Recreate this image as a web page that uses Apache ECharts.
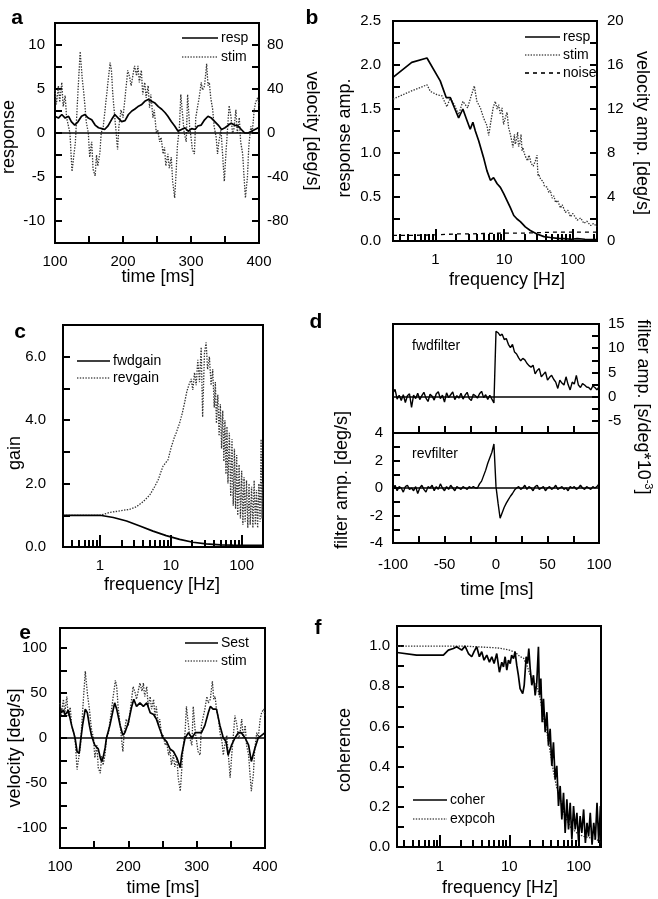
<!DOCTYPE html>
<html><head><meta charset="utf-8">
<script src="https://cdn.jsdelivr.net/npm/echarts@6/dist/echarts.min.js"></script>
<style>html,body{margin:0;padding:0;background:#fff}#c{width:658px;height:899px}</style>
</head><body><div id="c"></div>
<script>
// ---------- panel a / e : time series (ms) ----------
const stimT = [100,102,105,107,110,112,115,117,122,125,128,130,134,137,140,143,146,149,151,154,156,159,161,163,166,168,171,176,181,183,185,188,192,194,197,200,203,207,210,212,215,217,220,222,224,227,229,232,234,237,239,241,244,246,249,251,254,256,259,261,263,266,268,271,273,276,278,280,283,285,288,290,293,295,298,300,302,305,307,310,312,315,317,320,323,325,327,329,332,334,337,339,341,344,346,349,351,354,356,359,361,363,366,368,371,373,376,378,380,383,385,388,390,393,395,398,400];
const stimV = [39,26,43,28,46,24,34,14,0,-35,-19,-8,40,74,50,32,10,0,-22,-8,-33,-39,-20,-30,-18,0,6,35,64,57,35,14,-15,6,21,14,32,57,50,43,54,61,52,61,46,57,35,46,32,43,23,35,14,21,0,3,-8,-4,-19,-13,-30,-19,-32,-22,-44,-59,-37,-12,6,35,14,0,-8,35,6,-4,-15,-19,14,25,32,46,39,43,63,43,46,32,21,6,-4,-19,-8,3,-15,-44,-22,6,25,14,0,3,21,0,14,-8,-19,-40,-59,-40,-12,6,0,21,28,32,25];
const respT = [100,105,110,115,120,124,129,134,139,144,149,154,159,164,169,173,178,183,188,193,198,203,208,213,217,222,227,232,237,242,247,252,257,262,266,271,276,281,286,291,296,301,306,310,315,320,325,330,335,340,345,350,355,359,364,369,374,379,384,389,394,399];
const respV = [1.9,1.7,2.1,1.7,1.9,1.3,0.9,1.3,1.9,2.1,1.7,1.5,0.9,0.6,0.5,0.4,0.8,1.5,2.1,1.7,1.3,1.4,2.1,2.5,2.7,3.0,3.2,3.6,3.8,3.6,3.4,3.0,2.7,2.3,1.9,1.3,0.8,0.2,0.4,0.6,0.2,0.5,0.4,0.8,0.9,1.5,1.9,1.7,1.3,0.9,0.4,0.6,0.9,1.1,0.9,0.8,0.4,0.0,0.0,0.2,0.4,0.6];
const sestT = [100,102,105,107,110,112,115,117,120,122,125,128,130,133,137,140,143,146,149,151,156,159,161,163,166,168,173,178,180,183,188,192,195,200,205,208,212,217,222,227,232,237,241,246,251,256,261,266,271,276,278,283,288,293,298,302,307,312,317,320,324,329,334,339,343,346,351,356,361,365,371,376,380,385,390,395,400];
const sestV = [35,28,31,26,28,31,21,14,6,0,-15,-17,-4,14,32,28,14,3,-4,-8,-12,-22,-26,-22,-11,0,14,32,39,32,14,3,6,17,35,43,35,39,35,39,28,26,21,10,0,-4,-12,-15,-22,-33,-19,0,6,0,6,6,6,14,28,35,32,32,14,0,-4,-19,-8,0,6,6,0,-8,-26,-12,0,3,6];

// ---------- panel b : amplitude spectra ----------
const bRespF = [0.24,0.45,0.75,1.17,1.43,1.64,1.87,2.17,2.5,2.87,3.2,3.5,3.8,4.25,5.0,5.6,6.3,7.0,7.9,8.8,9.8,11.0,12.3,13.8,15.4,17.2,20.3,24,30,38,47,60,74,95,116,150,190,225];
const bRespV = [1.86,2.03,2.08,1.82,1.63,1.63,1.52,1.40,1.50,1.37,1.27,1.35,1.25,1.14,0.95,0.80,0.69,0.72,0.65,0.61,0.54,0.46,0.38,0.29,0.25,0.22,0.16,0.12,0.08,0.05,0.04,0.03,0.026,0.02,0.026,0.02,0.015,0.015];
const bStimF = [0.24,0.43,0.75,0.84,1.05,1.24,1.46,1.64,1.87,2.17,2.5,2.93,3.2,3.67,4.0,4.5,5.0,5.6,5.95,6.3,6.9,7.4,7.9,8.3,8.8,9.3,9.8,10.4,11.0,11.6,12.3,13.0,13.4,14.1,14.5,15.0,15.7,16.2,16.8,17.6,18.2,18.8,19.5,20.3,21,22,22.8,23.6,24.5,25.5,26.5,27.5,28.5,30.1,31.0,31.8,33,34,35.6,37,38.5,39.9,42,44.7,47,50,53,56,60,66,70,78,85,92,100,116,130,145,160,182,200,225];
const bStimV = [12.9,13.6,14.2,13.6,13.3,13.2,12.2,13.0,12.4,11.5,12.7,12.1,12.9,14.1,12.7,12.1,11.2,10.5,9.6,10.6,12.1,12.7,12.0,12.4,11.5,12.1,10.6,11.2,11.7,10.3,9.7,9.0,8.5,9.7,8.8,9.1,9.9,8.6,8.8,9.7,8.2,8.5,8.0,7.9,7.5,7.3,7.8,7.6,7.1,7.0,6.8,6.7,7.3,7.8,5.9,6.1,6.0,5.6,5.5,5.4,5.0,5.0,4.9,4.4,4.6,3.9,4.1,3.5,3.7,3.0,3.3,2.6,2.8,2.2,2.5,1.9,2.1,1.6,1.8,1.4,1.6,1.3];
const bNoiseF = [0.24,0.5,1,2,3,5,10,20,50,100,225];
const bNoiseV = [0.065,0.065,0.07,0.08,0.08,0.085,0.09,0.09,0.1,0.1,0.1];

// ---------- panel c : gains ----------
const cFwdF = [0.3,0.5,1.0,1.54,2.37,3.65,5.6,8.6,13.3,20.5,31.5,50,75,120,197];
const cFwdV = [1.0,1.0,1.0,0.93,0.82,0.66,0.50,0.36,0.24,0.15,0.10,0.07,0.06,0.05,0.05];
const cRevF = [0.3,0.5,1.0,1.38,1.91,2.64,3.27,4.06,5.04,5.9,6.6,7.2,7.76,8.2,9.1,10.2,11.3,11.9,13.3,14.5,15.6,16.8,17.9,19.4,20.4,21.6,22.8,24.0,25.4,26.8,28.1,29.8,31.5,33.0,35.0,37.0,39.0,41.0,42.5,44.0,46,48,50,52,54,56,58,60,62,64,67,70,73,76,79,82,85,88,92,96,100,104,108,112,117,122,127,132,138,144,150,156,162,168,175,182,188,194,197];
const cRevV = [1.0,1.0,1.0,1.09,1.14,1.19,1.27,1.43,1.64,1.90,2.11,2.35,2.55,2.5,2.75,3.17,3.48,3.6,3.91,4.22,4.54,4.9,5.1,5.3,4.95,5.5,5.1,5.9,5.2,6.3,4.1,6.1,6.45,5.6,6.0,5.1,5.6,4.4,5.2,3.9,4.8,3.5,4.5,3.1,4.3,2.7,4.0,2.3,3.8,2.0,3.6,1.6,3.4,1.3,3.1,1.2,2.9,1.0,2.6,0.9,2.4,0.7,2.2,0.8,2.1,0.6,2.0,0.7,1.9,0.6,2.1,0.7,1.8,0.6,2.0,0.8,3.4,0.9,2.0];

// ---------- panel d : filters (ms) ----------
const dTime = [-100,-98,-96,-94,-92,-90,-88,-86,-84,-82,-80,-78,-76,-74,-72,-70,-68,-66,-64,-62,-60,-58,-56,-54,-52,-50,-48,-46,-44,-42,-40,-38,-36,-34,-32,-30,-28,-26,-24,-22,-20,-18,-16,-14,-12,-10,-8,-6,-4,-2,0,2,4,6,8,10,12,14,16,18,20,22,24,26,28,30,32,34,36,38,40,42,44,46,48,50,52,54,56,58,60,62,64,66,68,70,72,74,76,78,80,82,84,86,88,90,92,94,96,98,100];
const dFwd = [0.8,1.5,-0.5,0.3,-0.8,0.4,-1.2,0.2,0.6,-2.2,0.3,-0.4,0.7,-0.6,0.2,0.9,-0.3,-1.0,0.5,0.1,-0.7,0.6,1.0,-0.4,0.3,-1.1,0.8,-0.2,0.4,1.0,-0.6,0.2,-0.3,0.7,-0.5,0.3,0.9,-0.4,-0.8,0.5,0.2,-0.3,0.6,1.1,-0.2,0.4,-0.6,0.3,-0.5,-1.3,
  13.5,13.2,12.6,12.9,11.8,12.0,10.8,10.1,10.8,9.2,8.8,8.0,7.4,7.9,7.6,6.9,6.4,6.1,6.5,4.7,5.4,5.8,4.1,4.6,5.1,3.4,4.0,4.4,3.6,3.0,1.7,3.4,2.8,2.4,4.1,2.5,1.4,3.0,2.6,4.4,2.4,1.9,2.7,2.4,2.0,1.9,1.4,2.2,1.9,1.4,2.0];
const dRev = [-0.1,0.2,-0.2,0.1,0.0,-0.3,0.1,0.2,-0.1,0.0,-0.2,0.1,-0.4,0.0,0.2,-0.1,-0.3,0.1,0.0,0.2,-0.2,0.1,-0.1,0.3,0.0,-0.2,0.1,-0.1,0.2,0.0,-0.2,0.1,0.0,-0.1,0.1,0.0,-0.1,0.1,0.0,0.1,0.0,
  0.0,0.3,0.5,0.9,1.3,1.8,2.2,2.6,3.2,0.1,-1.1,-2.2,-1.8,-1.4,-1.1,-0.84,-0.6,-0.4,-0.15,0.0,
  0.1,-0.1,0.0,0.2,-0.1,0.1,0.0,-0.2,0.1,0.2,-0.1,0.0,0.1,-0.2,0.0,0.1,-0.1,0.0,0.2,-0.1,0.0,0.1,-0.1,0.0,-0.2,0.1,0.0,0.1,-0.1,0.0,0.2,0.0,-0.1,0.1,0.0,-0.1,0.1,0.0,0.1,0.3];

// ---------- panel f : coherence ----------
const fCohF = [0.24,0.46,1.0,1.12,1.32,1.56,1.74,1.84,2.06,2.3,2.57,2.87,3.1,3.39,3.7,4.0,4.32,4.73,5.17,5.59,6.03,6.59,7.2,7.79,8.23,8.7,9.2,9.72,10.3,10.8,11.5,12.1,12.8,13.5,14.3,15.6,16.4,17.5,18.3,19.1,20.0,21.1,22.3,23.6,24.9,26.3,27.2,28.5,29.8,31.1,32.9,34.8,36.7,38.8,41.0,43.3,45.8,48.4,51.2,54.1,57.2,60.5,63.9,67.6,71.4,75.5,79.8,84.4,89.2,94.3,99.7,105,111,118,125,132,139,147,156,165,174,184,195,206,210];
const fCohV = [0.968,0.955,0.955,0.955,0.98,0.988,0.997,0.988,0.98,1.0,0.963,0.947,0.972,0.997,0.947,0.972,0.93,0.955,0.92,0.947,0.913,0.963,0.87,0.92,0.896,0.947,0.88,0.93,0.913,0.955,0.938,0.972,0.905,0.855,0.788,0.763,0.805,0.947,0.913,0.988,0.888,0.805,0.855,0.755,0.821,0.997,0.755,0.838,0.621,0.738,0.571,0.671,0.504,0.588,0.404,0.521,0.337,0.404,0.204,0.304,0.137,0.27,0.07,0.237,0.087,0.22,0.037,0.204,0.087,0.17,0.028,0.154,0.07,0.187,0.02,0.12,0.053,0.17,0.012,0.12,0.037,0.22,0.02,0.204,0.07];
const fExpF = [0.24,0.5,1,2.2,5.3,7.2,10,12.1,14.3,16,17.9,20,22.5,25,27.9,31,34.8,39,43.5,48.7,54.4,60.8,75.8,94.5,105,118,147,184,210];
const fExpV = [1.0,1.0,1.0,1.0,0.993,0.99,0.98,0.97,0.947,0.94,0.905,0.855,0.82,0.80,0.74,0.64,0.57,0.47,0.37,0.29,0.24,0.17,0.10,0.07,0.06,0.053,0.045,0.037,0.02];

// ---------- tick values ----------
const logMinorTicks = [0.3,0.4,0.5,0.6,0.7,0.8,0.9,2,3,4,5,6,7,8,9,20,30,40,50,60,70,80,90,200];
const logDecades = [1,10,100];

// ================= chart =================
const FONT = '"Liberation Sans", Arial, Helvetica, sans-serif';
const zip = (xs, ys) => xs.map((x, i) => [x, ys[i]]);
const tick = (vals, len) => ({show: true, inside: true, length: len || 7, lineStyle: {color: '#000', width: 2}, customValues: vals});
const lab = (vals, margin, fmt) => ({show: true, color: '#000', fontSize: 15, fontFamily: FONT, margin: margin, customValues: vals, showMinLabel: true, showMaxLabel: true, formatter: fmt || (v => String(v))});
const noLab = {show: false};
function ax(o) {
  return Object.assign({axisLine: {show: false, onZero: false}, splitLine: {show: false}, minorTick: {show: false}, axisLabel: noLab, axisTick: {show: false}}, o);
}
const f1 = v => Number(v).toFixed(1);
const fInt = v => String(Math.round(v));

const solid = {color: '#000', width: 1.7};
const dotted = {color: '#333', width: 1.3, type: [1.4, 1.4]};
const dashed = {color: '#000', width: 1.3, type: [4, 4]};
const zeroLine = {silent: true, symbol: 'none', label: {show: false}, lineStyle: {color: '#000', width: 1.6, type: 'solid'}, data: [{yAxis: 0}]};
function line(name, xi, yi, data, style, extra) {
  return Object.assign({type: 'line', name: name, xAxisIndex: xi, yAxisIndex: yi, data: data, showSymbol: false, symbol: 'none', lineStyle: style, animation: false, silent: true}, extra || {});
}

const gridBase = {show: true, borderColor: '#000', borderWidth: 2, backgroundColor: 'transparent'};
const grids = [
  {left: 55, top: 23, width: 204, height: 220},   // a
  {left: 393, top: 21, width: 204, height: 220},  // b
  {left: 63, top: 325, width: 200, height: 222},  // c
  {left: 393, top: 324, width: 206, height: 109}, // d upper
  {left: 393, top: 433, width: 206, height: 110}, // d lower
  {left: 60, top: 628, width: 205, height: 220},  // e
  {left: 397, top: 626, width: 204, height: 221}  // f
].map(g => Object.assign({}, gridBase, g));

const xAxes = [
  ax({type: 'value', gridIndex: 0, position: 'bottom', min: 100, max: 400, axisTick: tick([150,200,250,300,350]), axisLabel: lab([100,200,300,400], 11)}),
  ax({type: 'log', logBase: 10, gridIndex: 1, position: 'bottom', min: 0.24, max: 225, axisTick: tick(logMinorTicks), axisLabel: lab(logDecades, 11, fInt)}),
  ax({type: 'log', logBase: 10, gridIndex: 1, position: 'bottom', min: 0.24, max: 225, axisTick: tick(logDecades, 12)}),
  ax({type: 'log', logBase: 10, gridIndex: 2, position: 'bottom', min: 0.3, max: 200, axisTick: tick(logMinorTicks), axisLabel: lab(logDecades, 11, fInt)}),
  ax({type: 'log', logBase: 10, gridIndex: 2, position: 'bottom', min: 0.3, max: 200, axisTick: tick(logDecades, 12)}),
  ax({type: 'value', gridIndex: 3, position: 'bottom', min: -100, max: 100, axisTick: tick([-75,-50,-25,0,25,50,75])}),
  ax({type: 'value', gridIndex: 4, position: 'bottom', min: -100, max: 100, axisTick: tick([-75,-50,-25,0,25,50,75]), axisLabel: lab([-100,-50,0,50,100], 14)}),
  ax({type: 'value', gridIndex: 5, position: 'bottom', min: 100, max: 400, axisTick: tick([150,200,250,300,350]), axisLabel: lab([100,200,300,400], 11)}),
  ax({type: 'log', logBase: 10, gridIndex: 6, position: 'bottom', min: 0.24, max: 210, axisTick: tick(logMinorTicks), axisLabel: lab(logDecades, 12, fInt)}),
  ax({type: 'log', logBase: 10, gridIndex: 6, position: 'bottom', min: 0.24, max: 210, axisTick: tick(logDecades, 12)})
];
const yAxes = [
  ax({type: 'value', gridIndex: 0, position: 'left', min: -12.5, max: 12.5, axisTick: tick([-10,-7.5,-5,-2.5,0,2.5,5,7.5,10]), axisLabel: lab([-10,-5,0,5,10], 10)}),
  ax({type: 'value', gridIndex: 0, position: 'right', min: -100, max: 100, axisTick: tick([-80,-60,-40,-20,0,20,40,60,80]), axisLabel: lab([-80,-40,0,40,80], 8)}),
  ax({type: 'value', gridIndex: 1, position: 'left', min: 0, max: 2.5, axisTick: tick([0.25,0.5,0.75,1,1.25,1.5,1.75,2,2.25]), axisLabel: lab([0,0.5,1,1.5,2,2.5], 12, f1)}),
  ax({type: 'value', gridIndex: 1, position: 'right', min: 0, max: 20, axisTick: tick([2,4,6,8,10,12,14,16,18]), axisLabel: lab([0,4,8,12,16,20], 10)}),
  ax({type: 'value', gridIndex: 2, position: 'left', min: 0, max: 7, axisTick: tick([1,2,3,4,5,6]), axisLabel: lab([0,2,4,6], 17, f1)}),
  ax({type: 'value', gridIndex: 3, position: 'right', min: -7.5, max: 15, axisTick: tick([-5,-2.5,0,2.5,5,7.5,10,12.5]), axisLabel: lab([-5,0,5,10,15], 9)}),
  ax({type: 'value', gridIndex: 4, position: 'left', min: -4, max: 4, axisTick: tick([-3,-2,-1,0,1,2,3]), axisLabel: lab([-4,-2,0,2,4], 10)}),
  ax({type: 'value', gridIndex: 5, position: 'left', min: -122, max: 122, axisTick: tick([-100,-75,-50,-25,0,25,50,75,100]), axisLabel: lab([-100,-50,0,50,100], 13)}),
  ax({type: 'value', gridIndex: 6, position: 'left', min: 0, max: 1.1, axisTick: tick([0.1,0.2,0.3,0.4,0.5,0.6,0.7,0.8,0.9,1.0]), axisLabel: lab([0,0.2,0.4,0.6,0.8,1.0], 7, f1)})
];

const series = [
  line('stim', 0, 1, zip(stimT, stimV), dotted),
  line('resp', 0, 0, zip(respT, respV), solid, {markLine: zeroLine}),
  line('stim', 1, 3, zip(bStimF, bStimV), dotted),
  line('noise', 1, 2, zip(bNoiseF, bNoiseV), dashed),
  line('resp', 1, 2, zip(bRespF, bRespV), solid),
  line('revgain', 3, 4, zip(cRevF, cRevV), dotted),
  line('fwdgain', 3, 4, zip(cFwdF, cFwdV), solid),
  line('fwdfilter', 5, 5, zip(dTime, dFwd), {color: '#000', width: 1.4}, {markLine: zeroLine}),
  line('revfilter', 6, 6, zip(dTime, dRev), {color: '#000', width: 1.4}, {markLine: zeroLine}),
  line('stim', 7, 7, zip(stimT, stimV), dotted),
  line('Sest', 7, 7, zip(sestT, sestV), solid, {markLine: zeroLine}),
  line('expcoh', 8, 8, zip(fExpF, fExpV), dotted),
  line('coher', 8, 8, zip(fCohF, fCohV), solid)
];

// ---------- text / legend decorations ----------
const G = [];
function txt(x, y, s, size, rot, extra) {
  G.push({type: 'text', x: x, y: y, rotation: rot || 0, silent: true,
    style: Object.assign({text: s, fontSize: size, fontFamily: FONT, fill: '#000', textAlign: 'center', textVerticalAlign: 'middle', verticalAlign: 'middle'}, extra || {})});
}
function leg(x1, x2, y, label, style) {
  G.push({type: 'line', silent: true, shape: {x1: x1, y1: y, x2: x2, y2: y},
    style: {stroke: '#000', lineWidth: style === dotted ? 1.2 : 1.6, lineDash: style === dotted ? [1.4, 1.4] : (style === dashed ? [4, 4] : null)}});
  txt(x2 + 3, y, label, 14, 0, {textAlign: 'left'});
}
const R = Math.PI / 2;
// panel letters
[['a', 17, 18], ['b', 312, 18], ['c', 20, 332], ['d', 316, 322], ['e', 25, 633], ['f', 318, 628]].forEach(p =>
  txt(p[1], p[2], p[0], 21, 0, {fontWeight: 'bold'}));
// axis titles
txt(9, 137, 'response', 18, R);
txt(312, 131, 'velocity [deg/s]', 18, -R);
txt(158, 277, 'time [ms]', 18);
txt(345, 138, 'response amp.', 18, R);
txt(642, 133, 'velocity amp. [deg/s]', 18, -R);
txt(507, 280, 'frequency [Hz]', 18);
txt(15, 453, 'gain', 18, R);
txt(162, 585, 'frequency [Hz]', 18);
txt(497, 590, 'time [ms]', 18);
txt(342, 480, 'filter amp. [deg/s]', 18, R);
G.push({type: 'text', x: 643, y: 407, rotation: -R, silent: true,
  style: {text: '{m|filter amp. [s/deg*10}{s|-3}{m|]}', fill: '#000', textAlign: 'center', textVerticalAlign: 'middle', verticalAlign: 'middle',
    rich: {m: {fontSize: 18, fontFamily: FONT, fill: '#000', lineHeight: 22}, s: {fontSize: 11, fontFamily: FONT, fill: '#000', verticalAlign: 'top', lineHeight: 22, padding: [0, 0, 10, 0]}}}});
txt(15, 748, 'velocity [deg/s]', 18, R);
txt(163, 888, 'time [ms]', 18);
txt(345, 750, 'coherence', 18, R);
txt(500, 888, 'frequency [Hz]', 18);
// in-plot labels
txt(412, 346, 'fwdfilter', 14, 0, {textAlign: 'left'});
txt(412, 454, 'revfilter', 14, 0, {textAlign: 'left'});
// legends
leg(182, 218, 38, 'resp', solid);
leg(182, 218, 57, 'stim', dotted);
leg(525, 560, 37, 'resp', solid);
leg(525, 560, 55, 'stim', dotted);
leg(525, 560, 73, 'noise', dashed);
leg(77, 110, 361, 'fwdgain', solid);
leg(77, 110, 378, 'revgain', dotted);
leg(185, 218, 643, 'Sest', solid);
leg(185, 218, 661, 'stim', dotted);
leg(413, 447, 800, 'coher', solid);
leg(413, 447, 819, 'expcoh', dotted);

const chart = echarts.init(document.getElementById('c'), null, {renderer: 'canvas'});
chart.setOption({
  animation: false,
  backgroundColor: '#fff',
  textStyle: {fontFamily: FONT},
  grid: grids,
  xAxis: xAxes,
  yAxis: yAxes,
  series: series,
  graphic: G
});
</script></body></html>
